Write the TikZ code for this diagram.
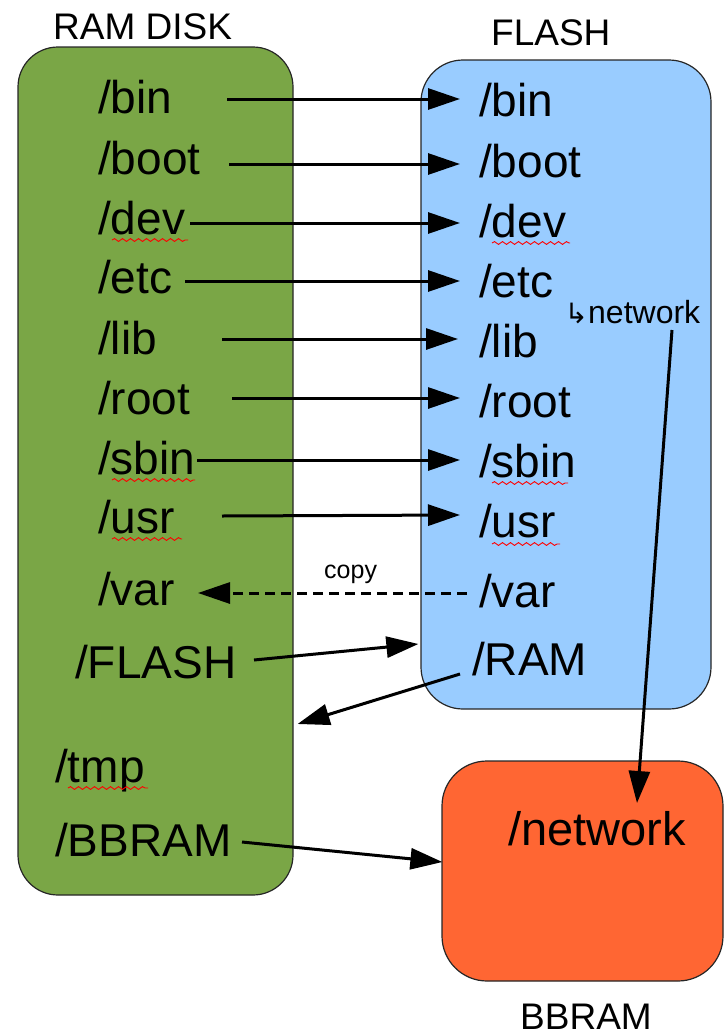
\documentclass[tikz,border=0pt]{standalone}
\usepackage{fontspec}
\setmainfont{Liberation Sans}
\newfontfamily\symfont{DejaVu Sans}
\usetikzlibrary{arrows.meta,decorations.pathmorphing}
\definecolor{ramgreen}{RGB}{122,166,70}
\definecolor{flashblue}{RGB}{153,204,255}
\definecolor{bbramorange}{RGB}{255,102,51}
\tikzset{
  box/.style={draw=black!85, line width=1.2pt, inner sep=0pt},
  lbl/.style={anchor=base west, inner sep=0pt, font=\fontsize{46}{50}\selectfont},
  ttl/.style={anchor=base west, inner sep=0pt, font=\fontsize{37}{40}\selectfont},
  arr/.style={line width=3pt, -{Triangle[length=32pt,width=21pt]}},
  dasharr/.style={arr, dash pattern=on 10pt off 6pt},
  squig/.style={draw=red, line width=0.9pt, decorate, decoration={snake, amplitude=1.4pt, segment length=8pt}},
}
\begin{document}
\begin{tikzpicture}[x=1pt,y=-1pt]
\useasboundingbox (0,0) rectangle (725,1036);
% boxes
\node[box, fill=ramgreen, rounded corners=40pt, minimum width=275pt, minimum height=848pt] (ram) at (155.5,471) {};
\node[box, fill=flashblue, rounded corners=42pt, minimum width=290pt, minimum height=649pt] (flash) at (566,384.5) {};
\node[box, fill=bbramorange, rounded corners=45pt, minimum width=281pt, minimum height=220pt] (bbram) at (582.5,871) {};
% titles
\node[ttl] (tram) at (53,39) {RAM DISK};
\node[ttl] (tflash) at (491,45) {FLASH};
\node[ttl] (tbbram) at (520,1029) {BBRAM};
% left labels
\node[lbl] (lbin) at (98,113) {/bin};
\node[lbl] (lboot) at (98,174) {/boot};
\node[lbl] (ldev) at (98,234) {/dev};
\node[lbl] (letc) at (98,293) {/etc};
\node[lbl] (llib) at (98,354) {/lib};
\node[lbl] (lroot) at (98,414) {/root};
\node[lbl] (lsbin) at (98,474) {/sbin};
\node[lbl] (lusr) at (98,533) {/usr};
\node[lbl] (lvar) at (98,605) {/var};
\node[lbl] (lflash) at (75,678) {/FLASH};
\node[lbl] (ltmp) at (55,782) {/tmp};
\node[lbl] (lbbram) at (55,856) {/BBRAM};
% right labels
\node[lbl] (rbin) at (479,116) {/bin};
\node[lbl] (rboot) at (479,177) {/boot};
\node[lbl] (rdev) at (479,237) {/dev};
\node[lbl] (retc) at (479,297) {/etc};
\node[lbl] (rlib) at (479,357) {/lib};
\node[lbl] (rroot) at (479,417) {/root};
\node[lbl] (rsbin) at (479,477) {/sbin};
\node[lbl] (rusr) at (479,537) {/usr};
\node[lbl] (rvar) at (479,607) {/var};
\node[lbl] (rram) at (472,675) {/RAM};
\node[anchor=base west, inner sep=0pt, font=\fontsize{32}{34}\selectfont] (netsub) at (588,323)
  {\llap{\symfont\fontsize{28}{30}\selectfont ↳\kern0pt}network};
\node[lbl, font=\fontsize{47}{50}\selectfont] (bnet) at (508,845) {/network};
\node[anchor=base west, inner sep=0pt, font=\fontsize{25}{27}\selectfont] (copy) at (324,578) {copy};
% squiggles
\draw[squig] ([shift={(14,6)}]ldev.base west) -- ([shift={(90,6)}]ldev.base west);
\draw[squig] ([shift={(14,6)}]lsbin.base west) -- ([shift={(97,6)}]lsbin.base west);
\draw[squig] ([shift={(14,6)}]lusr.base west) -- ([shift={(84,6)}]lusr.base west);
\draw[squig] ([shift={(13,6)}]ltmp.base west) -- ([shift={(93,6)}]ltmp.base west);
\draw[squig] ([shift={(13,6)}]rdev.base west) -- ([shift={(91,6)}]rdev.base west);
\draw[squig] ([shift={(13,6)}]rsbin.base west) -- ([shift={(89,6)}]rsbin.base west);
\draw[squig] ([shift={(13,7)}]rusr.base west) -- ([shift={(81,7)}]rusr.base west);
% arrows
\draw[arr] ([shift={(129,-14)}]lbin.base west) -- ([shift={(-19,-17)}]rbin.base west);
\draw[arr] ([shift={(131,-10)}]lboot.base west) -- ([shift={(-19,-13)}]rboot.base west);
\draw[arr] ([shift={(92,-11)}]ldev.base west) -- ([shift={(-19,-14)}]rdev.base west);
\draw[arr] ([shift={(87,-12)}]letc.base west) -- ([shift={(-19,-16)}]retc.base west);
\draw[arr] ([shift={(124,-15)}]llib.base west) -- ([shift={(-21,-18)}]rlib.base west);
\draw[arr] ([shift={(134,-16)}]lroot.base west) -- ([shift={(-19,-19)}]rroot.base west);
\draw[arr] ([shift={(99,-14)}]lsbin.base west) -- ([shift={(-19,-17)}]rsbin.base west);
\draw[arr] ([shift={(124,-17)}]lusr.base west) -- ([shift={(-19,-22)}]rusr.base west);
\draw[dasharr] ([shift={(-12,-14)}]rvar.base west) -- ([shift={(100,-12)}]lvar.base west);
\draw[arr] ([shift={(179,-18)}]lflash.base west) -- ([shift={(-2,259.5)}]flash.west);
\draw[arr] ([shift={(-12,-1)}]rram.base west) -- ([shift={(4,253)}]ram.east);
\draw[arr] ([shift={(84,7)}]netsub.base west) -- ([shift={(129,-42)}]bnet.base west);
\draw[arr] ([shift={(187,-14)}]lbbram.base west) -- ([shift={(1,-9)}]bbram.west);
\end{tikzpicture}
\end{document}
